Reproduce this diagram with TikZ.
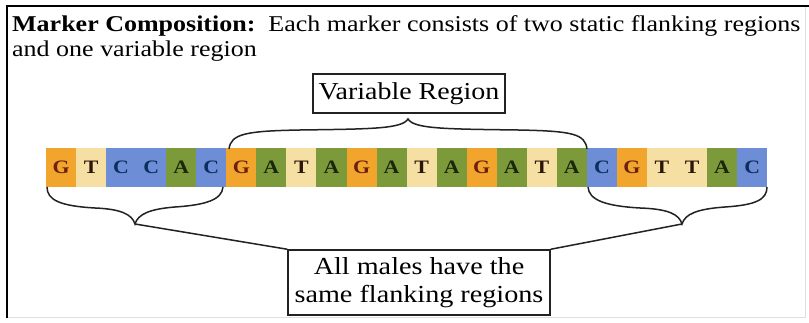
\documentclass[tikz,border=0pt]{standalone}
\usepackage{fontspec}
\setmainfont{Liberation Serif}[FakeStretch=1.15]
\usetikzlibrary{calc}
\definecolor{gfill}{HTML}{F2A52C}
\definecolor{tfill}{HTML}{F6DFA2}
\definecolor{cfill}{HTML}{6D8ED6}
\definecolor{afill}{HTML}{7C9A3A}
\definecolor{gtext}{HTML}{6E2010}
\definecolor{ttext}{HTML}{2A1608}
\definecolor{ctext}{HTML}{0F2E5E}
\definecolor{atext}{HTML}{1C260C}
\definecolor{ink}{HTML}{222222}
\tikzset{
  nuc/.style={minimum width=30.05pt, minimum height=39pt, inner sep=0pt, outer sep=0pt,
    anchor=north west, font=\fontsize{19}{19}\selectfont\bfseries},
  nucG/.style={fill=gfill, text=gtext},
  nucT/.style={fill=tfill, text=ttext},
  nucC/.style={fill=cfill, text=ctext},
  nucA/.style={fill=afill, text=atext},
  label box/.style={draw=ink, line width=1.5pt, inner sep=0pt, align=center},
  brace line/.style={draw=ink, line width=1.5pt},
  title text/.style={anchor=base west, inner sep=0pt, font=\fontsize{22.6}{22.6}\selectfont}
}
\begin{document}
\begin{tikzpicture}[x=1pt,y=-1pt]
\useasboundingbox (0,0) rectangle (809,323);
\fill[white] (0,0) rectangle (809,323);

% frame
\draw[gray!25, line width=1pt] (8,317) -- (805,317) -- (805,7);
\draw[black, line width=2.5pt] (7,318) -- (7,6) -- (809,6);

% heading
\node[title text] (t1) at (12,32) {\textbf{Marker Composition:}\ \ Each marker consists of two static flanking regions};
\node[title text] (t2) at (12,57) {and one variable region};

% marker sequence
\foreach \L [count=\i] in {G,T,C,C,A,C,G,A,T,A,G,A,T,A,G,A,T,A,C,G,T,T,A,C}
  \node[nuc, nuc\L] (b\i) at ({46+(\i-1)*30.05},148) {\L};

% labels
\node[label box, minimum width=192pt, minimum height=39pt, font=\fontsize{24.3}{24.3}\selectfont] (vr) at (409,93.5) {Variable Region};
\node[label box, minimum width=262pt, minimum height=65pt, font=\fontsize{24.5}{28}\selectfont] (fl) at (419,282.5) {All males have the\\same flanking regions};

% brace tips
\coordinate (vtip) at (408,119);
\coordinate (ltip) at (135,224);
\coordinate (rtip) at (682,224);

% brace over the variable region
\draw[brace line] (229,149) .. controls (231,134) and (245,131) .. (300,130)
  .. controls (370,129) and (402,129) .. (vtip)
  .. controls (414,129) and (446,129) .. (518,130)
  .. controls (573,131) and (585,134) .. (587,149);

% braces under the flanking regions
\draw[brace line] (47,187) .. controls (47,200) and (60,206) .. (95,208)
  .. controls (120,209) and (132,214) .. (ltip)
  .. controls (138,214) and (150,209) .. (175,207)
  .. controls (205,205) and (222,200) .. (223,187);
\draw[brace line] (588,187) .. controls (589,200) and (605,206) .. (640,208)
  .. controls (668,209) and (679,214) .. (rtip)
  .. controls (685,214) and (697,209) .. (725,207)
  .. controls (755,205) and (767,200) .. (767,187);

% leaders to the flanking label
\draw[brace line] (ltip) -- (fl.north west);
\draw[brace line] (rtip) -- (fl.north east);
\end{tikzpicture}
\end{document}
